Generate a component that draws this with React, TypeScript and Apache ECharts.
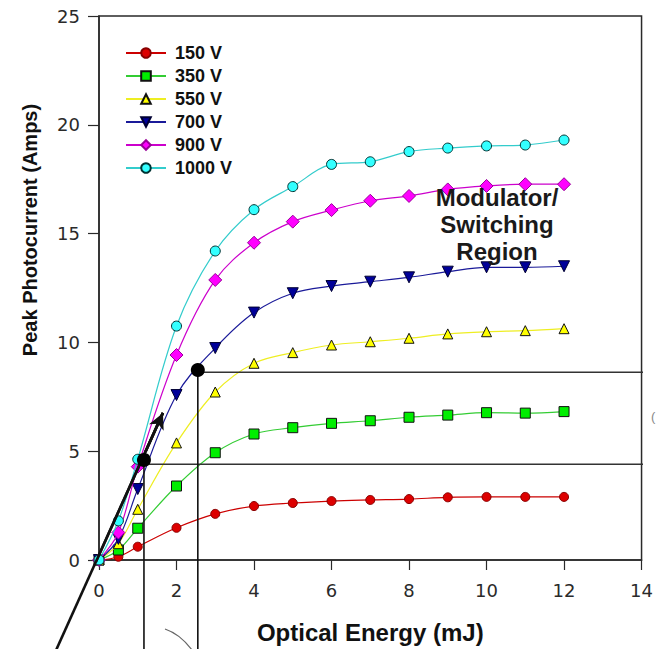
import React, { useEffect, useRef } from 'react';
import * as echarts from 'echarts';

// ---- data ----
const energy = [0, 0.5, 1, 2, 3, 4, 5, 6, 7, 8, 9, 10, 11, 12];
const v150 = [0, 0.15, 0.61, 1.48, 2.12, 2.48, 2.62, 2.71, 2.76, 2.8, 2.88, 2.9, 2.9, 2.9];
const v350 = [0, 0.46, 1.46, 3.4, 4.93, 5.79, 6.08, 6.28, 6.4, 6.56, 6.66, 6.77, 6.75, 6.82];
const v550 = [0, 0.75, 2.33, 5.38, 7.72, 9.04, 9.53, 9.88, 10.03, 10.19, 10.39, 10.49, 10.54, 10.63];
const v700 = [0, 0.97, 3.26, 7.58, 9.74, 11.37, 12.26, 12.59, 12.79, 12.99, 13.25, 13.45, 13.45, 13.5];
const v900 = [0, 1.26, 4.29, 9.42, 12.87, 14.58, 15.55, 16.08, 16.51, 16.73, 17.03, 17.19, 17.27, 17.27];
const v1000 = [0, 1.8, 4.63, 10.75, 14.2, 16.1, 17.16, 18.18, 18.3, 18.77, 18.93, 19.03, 19.07, 19.3];

const seriesNames = ['150 V', '350 V', '550 V', '700 V', '900 V', '1000 V'];
const seriesValues = [v150, v350, v550, v700, v900, v1000];

const xMin = 0, xMax = 14, xStep = 2;
const yMin = 0, yMax = 25, yStep = 5;

// annotation geometry (data units)
const arrowLine = [[-1.2, -4.51], [1.65, 6.76]];
const arrowHeadStart = [1.2, 4.98];
const knee1 = [1.16, 4.6];
const knee1Level = 4.4;
const knee2 = [2.55, 8.73];
const knee2Level = 8.63;
const lineBottom = -4.6;
const lineRight = 14.6;

const FONT = '"Liberation Sans", Arial, Helvetica, sans-serif';
const TICKFONT = '"DejaVu Sans", "Liberation Sans", sans-serif';

const styles = [
  { line: '#cc0000', fill: '#dd0000', border: '#880000', symbol: 'circle', size: 9, rotate: 0 },
  { line: '#33cc33', fill: '#00ee00', border: '#111111', symbol: 'rect', size: 10, rotate: 0 },
  { line: '#eeee22', fill: '#ffff00', border: '#111111', symbol: 'triangle', size: 10, rotate: 0 },
  { line: '#1a1a99', fill: '#000099', border: '#000033', symbol: 'triangle', size: 11, rotate: 180 },
  { line: '#cc00cc', fill: '#ff00ff', border: '#990099', symbol: 'diamond', size: 13, rotate: 0 },
  { line: '#33cccc', fill: '#33ffff', border: '#003333', symbol: 'circle', size: 10, rotate: 0 },
];

export default function App() {
  const ref = useRef<HTMLDivElement>(null);

  useEffect(() => {
    document.body.style.margin = '0';
    if (!ref.current) return;
    const chart = echarts.init(ref.current, undefined, { renderer: 'svg' });

    const dataSeries = seriesNames.map((name, i) => ({
      name,
      type: 'line',
      data: energy.map((x, j) => [x, seriesValues[i][j]]),
      smooth: 0.35,
      symbol: styles[i].symbol,
      symbolSize: styles[i].size,
      symbolRotate: styles[i].rotate,
      lineStyle: { color: styles[i].line, width: 1.2 },
      itemStyle: { color: styles[i].fill, borderColor: styles[i].border, borderWidth: 1 },
      z: 3 + i * 0.01,
    }));

    const annoLine = (data: number[][], width: number, color: string, z = 5) => ({
      type: 'line',
      data,
      symbol: 'none',
      clip: false,
      silent: true,
      lineStyle: { color, width },
      z,
    });

    const baseGraphic: any[] = [
      {
        type: 'text',
        x: 30,
        y: 230,
        rotation: Math.PI / 2,
        z: 10,
        style: {
          text: 'Peak Photocurrent (Amps)',
          textAlign: 'center',
          textVerticalAlign: 'middle',
          font: 'bold 20px ' + FONT,
          fill: '#111',
        },
      },
      {
        type: 'text',
        x: 497,
        y: 184,
        z: 10,
        style: {
          text: 'Modulator/\nSwitching\nRegion',
          textAlign: 'center',
          font: 'bold 24px ' + FONT,
          lineHeight: 27,
          fill: '#1a1a1a',
        },
      },
      {
        type: 'bezierCurve',
        shape: { x1: 165, y1: 629, x2: 192, y2: 650, cpx1: 180, cpy1: 634 },
        style: { stroke: '#666', lineWidth: 1.2, fill: 'none' },
      },
      {
        type: 'text',
        x: 651,
        y: 410,
        style: { text: '(', font: '13px ' + FONT, fill: '#888' },
      },
    ];

    const option: any = {
      animation: false,
      backgroundColor: '#ffffff',
      grid: { left: 99, right: 13, top: 16, bottom: 89, show: true, borderColor: '#2a2a2a', borderWidth: 1.5, backgroundColor: 'transparent' },
      legend: {
        data: seriesNames,
        orient: 'vertical',
        left: 120,
        top: 39,
        itemWidth: 40,
        itemHeight: 12,
        itemGap: 5,
        selectedMode: false,
        textStyle: { fontFamily: FONT, fontSize: 18, fontWeight: 'bold', color: '#111', padding: [0, 0, 0, 4] },
      },
      xAxis: {
        type: 'value',
        min: xMin,
        max: xMax,
        interval: xStep,
        name: 'Optical Energy (mJ)',
        nameLocation: 'middle',
        nameGap: 60,
        nameTextStyle: { fontFamily: FONT, fontSize: 24, fontWeight: 'bold', color: '#111' },
        axisLine: { show: true, onZero: false, lineStyle: { color: '#2a2a2a', width: 1.5 } },
        axisTick: { show: true, inside: false, length: 10, lineStyle: { color: '#2a2a2a', width: 1.2 } },
        axisLabel: { fontFamily: TICKFONT, fontSize: 18, color: '#2a2a2a', margin: 21 },
        splitLine: { show: false },
      },
      yAxis: {
        type: 'value',
        min: yMin,
        max: yMax,
        interval: yStep,
        axisLine: { show: true, onZero: false, lineStyle: { color: '#2a2a2a', width: 1.5 } },
        axisTick: { show: true, inside: false, length: 11, lineStyle: { color: '#2a2a2a', width: 1.2 } },
        axisLabel: { fontFamily: TICKFONT, fontSize: 18, color: '#2a2a2a', margin: 19 },
        splitLine: { show: false },
      },
      series: [
        ...dataSeries,
        annoLine([[knee1[0], knee1[1]], [knee1[0], lineBottom]], 1.6, '#111'),
        annoLine([[knee1[0], knee1Level], [lineRight, knee1Level]], 1.4, '#333'),
        annoLine([[knee2[0], knee2[1]], [knee2[0], lineBottom]], 1.6, '#111'),
        annoLine([[knee2[0], knee2Level], [lineRight, knee2Level]], 1.4, '#333'),
        {
          ...annoLine(arrowLine, 2.6, '#111', 6),
          markLine: {
            silent: true,
            symbol: ['none', 'arrow'],
            symbolSize: [12, 16],
            label: { show: false },
            lineStyle: { color: '#111', width: 2.6, type: 'solid' },
            data: [[{ coord: arrowHeadStart }, { coord: arrowLine[1] }]],
          },
        },
        {
          type: 'scatter',
          data: [knee1, knee2],
          symbol: 'circle',
          symbolSize: 14,
          clip: false,
          silent: true,
          itemStyle: { color: '#000', opacity: 1 },
          z: 7,
        },
      ],
      graphic: baseGraphic,
    };

    chart.setOption(option);

    // full arrow shaft (extends below the plot), positioned through the chart's own scales
    const p0 = chart.convertToPixel({ gridIndex: 0 }, arrowLine[0]) as number[];
    const p1 = chart.convertToPixel({ gridIndex: 0 }, arrowLine[1]) as number[];
    chart.setOption({
      graphic: [
        ...baseGraphic,
        {
          type: 'line',
          z: 6,
          shape: { x1: p0[0], y1: p0[1], x2: p1[0], y2: p1[1] },
          style: { stroke: '#111', lineWidth: 2.6 },
        },
      ],
    });

    return () => chart.dispose();
  }, []);

  return <div ref={ref} style={{ width: 656, height: 649 }} />;
}
